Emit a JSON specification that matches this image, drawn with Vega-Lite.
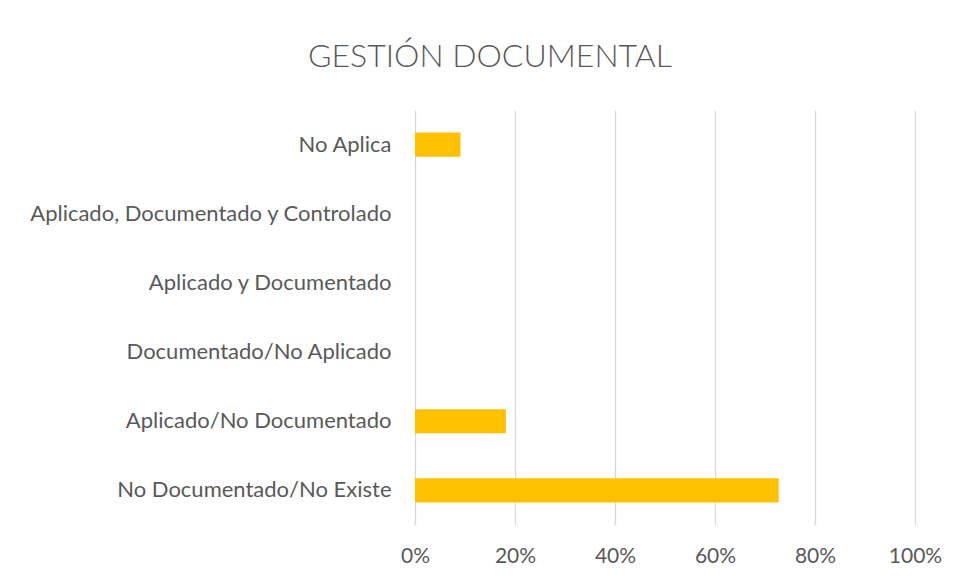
{
  "$schema": "https://vega.github.io/schema/vega-lite/v6.json",
  "width": 500,
  "height": 415,
  "autosize": {"type": "none"},
  "padding": {"left": 415, "top": 110, "right": 42, "bottom": 53},
  "background": "white",
  "title": {
    "text": "GESTIÓN DOCUMENTAL",
    "anchor": "middle",
    "dx": -175,
    "offset": 36,
    "font": "Lato",
    "fontSize": 32,
    "fontWeight": 300,
    "color": "#595959"
  },
  "data": {
    "values": [
      {"categoria": "No Aplica", "valor": 0.0909},
      {"categoria": "Aplicado, Documentado y Controlado", "valor": 0},
      {"categoria": "Aplicado y Documentado", "valor": 0},
      {"categoria": "Documentado/No Aplicado", "valor": 0},
      {"categoria": "Aplicado/No Documentado", "valor": 0.1818},
      {"categoria": "No Documentado/No Existe", "valor": 0.7273}
    ]
  },
  "mark": {"type": "bar", "color": "#FFC000"},
  "encoding": {
    "y": {
      "field": "categoria",
      "type": "nominal",
      "sort": null,
      "scale": {"paddingInner": 0.65, "paddingOuter": 0.325},
      "axis": {
        "title": null,
        "domain": false,
        "ticks": false,
        "labelPadding": 24,
        "labelFont": "Lato",
        "labelFontSize": 22,
        "labelColor": "#595959",
        "labelLimit": 500
      }
    },
    "x": {
      "field": "valor",
      "type": "quantitative",
      "scale": {"domain": [0, 1], "nice": false},
      "axis": {
        "title": null,
        "format": ".0%",
        "values": [0, 0.2, 0.4, 0.6, 0.8, 1],
        "domain": false,
        "ticks": false,
        "grid": true,
        "gridColor": "#D9D9D9",
        "gridWidth": 1.3,
        "labelPadding": 20,
        "labelAlign": "center",
        "labelFlush": false,
        "labelFont": "Lato",
        "labelFontSize": 21,
        "labelColor": "#595959"
      }
    }
  },
  "config": {"view": {"stroke": null}}
}
